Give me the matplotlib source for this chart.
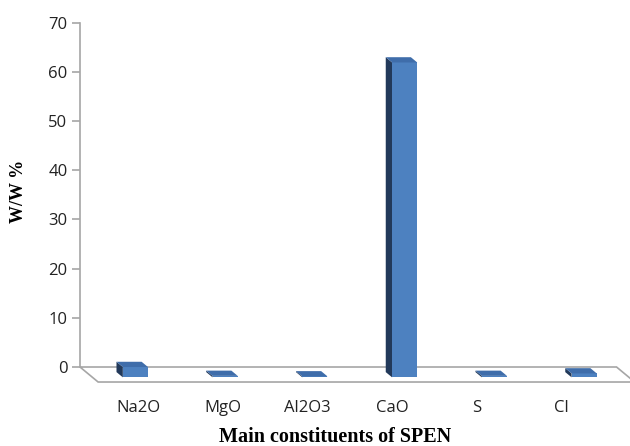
import numpy as np
import matplotlib.pyplot as plt
from matplotlib.patches import Polygon

# constituents of SPEN, % w/w
constituents = ["Na2O", "MgO", "Al2O3", "CaO", "S", "Cl"]
values = [2.1, 0.3, 0.2, 64.0, 0.3, 0.8]
yticks = [0, 10, 20, 30, 40, 50, 60, 70]

# pseudo 3D geometry (oblique projection, data units)
depth_dx, depth_dy = 0.2018, -3.05   # floor depth vector, back -> front
t_back, t_front = 0.34, 0.69          # bar position inside the floor depth
bar_w = 0.28

front_col = "#4D81C0"
side_col = "#22395A"
top_col = "#3F6DAA"
grid_col = "#A6A6A6"

fig = plt.figure(figsize=(6.3, 4.46), dpi=100)
ax = fig.add_axes([80 / 630, 54 / 446, 550 / 630, 380 / 446])
ax.set_xlim(-0.478, 5.65)
ax.set_ylim(-5.08, 72.15)

# floor
x_left, x_right = -0.478, 5.50
floor = Polygon([(x_left, 0), (x_right, 0),
                 (x_right + depth_dx, depth_dy), (x_left + depth_dx, depth_dy)],
                closed=True, facecolor="none", edgecolor=grid_col, lw=1.2,
                clip_on=False, zorder=1)
ax.add_patch(floor)

# bars
xs = np.arange(len(constituents))
xf = xs + t_front * depth_dx
y0 = t_front * depth_dy
ddx = (t_front - t_back) * depth_dx
ddy = -(t_front - t_back) * depth_dy
ax.bar(xf, values, width=bar_w, bottom=y0, color=front_col, zorder=3)
for x, v in zip(xf, values):
    l, r, top = x - bar_w / 2, x + bar_w / 2, y0 + v
    side = [(l, y0), (l, top), (l - ddx, top + ddy), (l - ddx, y0 + ddy)]
    lid = [(l, top), (r, top), (r - ddx, top + ddy), (l - ddx, top + ddy)]
    ax.add_patch(Polygon(side, closed=True, facecolor=side_col, edgecolor="none", zorder=2))
    ax.add_patch(Polygon(lid, closed=True, facecolor=top_col, edgecolor="none", zorder=4))

# axes styling
for s in ["top", "right", "bottom"]:
    ax.spines[s].set_visible(False)
ax.spines["left"].set_bounds(0, 70)
ax.spines["left"].set_color(grid_col)
ax.spines["left"].set_linewidth(1.2)
ax.set_yticks(yticks)
ax.tick_params(axis="y", colors=grid_col, length=6, width=1.2, labelsize=12,
               labelcolor="#222222", pad=3)
label_pos = 0.173 + 0.942 * xs
ax.set_xticks(label_pos, constituents)
ax.tick_params(axis="x", length=0, labelsize=12, labelcolor="#222222", pad=6)
for lab in ax.get_xticklabels() + ax.get_yticklabels():
    lab.set_family("Open Sans")

fig.text(0.03, 0.572, "W/W %", rotation=90, ha="center", va="center",
         family="Liberation Serif", fontweight="bold", fontsize=13)
fig.text(0.532, 0.02, "Main constituents of SPEN", ha="center", va="center",
         family="Liberation Serif", fontweight="bold", fontsize=14.5)

fig.savefig("out.png", dpi=100)
